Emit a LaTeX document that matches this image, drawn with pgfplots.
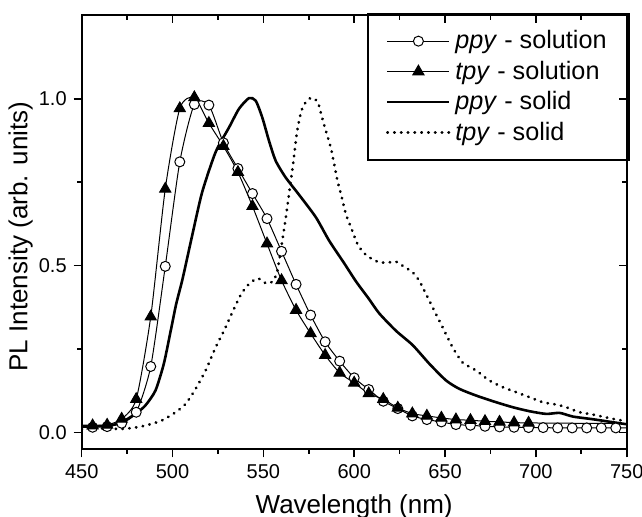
\documentclass[border=0pt]{standalone}
\usepackage{fontspec}
\setmainfont{Liberation Sans}
\usepackage{pgfplots}
\pgfplotsset{compat=1.18}

% 1 px of the reference = 0.5 pt here
\pgfplotsset{
  plbox/.style={
    width=272.5pt, height=217pt, scale only axis,
    xmin=450, xmax=750, ymin=-0.05, ymax=1.25,
    xtick={450,500,...,750}, ytick={0,0.5,1},
    minor x tick num=1, minor y tick num=1,
    major tick length=4pt, minor tick length=2.2pt,
    axis line style={line width=1pt},
    every tick/.style={black, line width=0.8pt},
  },
}

\begin{document}
\begin{tikzpicture}
\begin{axis}[
    plbox,
    tick align=outside,
    xtick pos=left, ytick pos=left,
    yticklabels={0.0,0.5,1.0},
    /pgf/number format/assume math mode=true,
    tick label style={font=\fontsize{10}{12}\selectfont},
    xlabel={Wavelength (nm)},
    ylabel={PL Intensity (arb. units)},
    x label style={font=\fontsize{13}{15}\selectfont,
        at={(axis description cs:0.5,0)}, anchor=base, yshift=-32.3pt},
    y label style={font=\fontsize{13}{15}\selectfont,
        at={(axis description cs:-0.112,0.49)}, anchor=center},
    legend style={at={(1.006,1.005)}, anchor=north east,
        draw=black, line width=0.8pt,
        font=\fontsize{12.6}{15}\selectfont,
        inner xsep=9pt, inner ysep=6pt,
        row sep=0pt,
        nodes={inner sep=2.3pt}},
    legend cell align=left,
    legend image code/.code={
        \draw[mark indices={2}] plot coordinates {(0pt,0pt) (15.5pt,0pt) (31pt,0pt)};},
]
% ppy - solution (open circles every 8 nm)
\addplot[black, line width=0.5pt, smooth, tension=0.4,
    mark=*, mark size=2.5pt, mark options={fill=white, line width=0.5pt},
    mark indices={2,...,38}] coordinates {
    (450,0.016) (456,0.016) (464,0.018) (472,0.028) (480,0.061) (488,0.198)
    (496,0.498) (504,0.811) (512,0.983) (520,0.981) (528,0.868) (536,0.791)
    (544,0.716) (552,0.641) (560,0.543) (568,0.444) (576,0.352) (584,0.272)
    (592,0.214) (600,0.164) (608,0.129) (616,0.094) (624,0.072) (632,0.050)
    (640,0.039) (648,0.032) (656,0.024) (664,0.022) (672,0.019) (680,0.017)
    (688,0.016) (696,0.015) (704,0.015) (712,0.014) (720,0.014) (728,0.014)
    (736,0.014) (744,0.014) (750,0.014)
};
% tpy - solution (filled triangles every 8 nm)
\addplot[black, line width=0.5pt, smooth, tension=0.4,
    mark=triangle*, mark size=3.2pt, mark options={fill=black},
    mark indices={2,...,32}] coordinates {
    (450,0.020) (456,0.021) (464,0.023) (472,0.041) (480,0.100) (488,0.347)
    (496,0.730) (504,0.971) (512,1.004) (520,0.927) (528,0.858) (536,0.780)
    (544,0.678) (552,0.566) (560,0.456) (568,0.367) (576,0.297) (584,0.232)
    (592,0.179) (600,0.149) (608,0.117) (616,0.100) (624,0.074) (632,0.057)
    (640,0.050) (648,0.044) (656,0.039) (664,0.037) (672,0.034) (680,0.032)
    (688,0.030) (696,0.029) (720,0.028) (750,0.027)
};
% ppy - solid
\addplot[black, line width=1.3pt, smooth, tension=0.4] coordinates {
    (450,0.020) (460,0.020) (467,0.023) (472,0.031) (479.6,0.056) (485,0.081)
    (490.6,0.126) (495.2,0.206) (499,0.305) (502,0.385) (505.5,0.460)
    (510.8,0.590) (516.3,0.720) (523.7,0.840) (531.1,0.914) (536.6,0.970)
    (542.1,1.002) (545.8,0.994) (549.4,0.944) (553.1,0.874) (556.8,0.814)
    (562.3,0.764) (569.7,0.712) (578.9,0.645) (586.2,0.575) (594.4,0.508)
    (601.1,0.452) (607.9,0.402) (613.8,0.357) (623,0.305) (632.2,0.262)
    (641.4,0.206) (650.6,0.156) (657.9,0.131) (667.1,0.111) (678.1,0.091)
    (687.3,0.076) (696.5,0.064) (705.7,0.056) (713.1,0.059) (720.4,0.048)
    (731.4,0.040) (742.5,0.031) (750,0.025)
};
% tpy - solid
\addplot[black, line width=1.4pt, line cap=round,
    dash pattern=on 0.2pt off 3.2pt, smooth, tension=0.4] coordinates {
    (450,0.010) (460,0.012) (472,0.011) (478,0.014) (485,0.021) (494,0.036)
    (501.7,0.061) (507.2,0.086) (512.7,0.131) (518.2,0.186) (523.7,0.255)
    (528.3,0.305) (533.5,0.367) (538,0.417) (542.5,0.447) (547,0.462)
    (551.5,0.447) (555,0.452) (557.5,0.480) (560,0.560) (562.5,0.650)
    (564.5,0.730) (566.5,0.810) (568.5,0.900) (571,0.965) (574,0.995)
    (577,1.003) (580,0.990) (582,0.950) (584.4,0.904) (587.1,0.854)
    (589,0.804) (590.8,0.754) (592.7,0.715) (595.4,0.655) (598.2,0.615)
    (601.8,0.565) (605,0.540) (608.3,0.525) (613.8,0.510) (619.3,0.510)
    (623,0.512) (626.6,0.500) (632.2,0.480) (635.8,0.455) (637.7,0.435)
    (643.2,0.375) (648.7,0.315) (654.2,0.255) (659.7,0.210) (667.1,0.186)
    (674.4,0.156) (681.8,0.136) (689.2,0.121) (696.5,0.106) (703.8,0.091)
    (711.2,0.084) (716.7,0.076) (724.1,0.061) (731.4,0.054) (742.5,0.041)
    (750,0.034)
};
\legend{\textit{ppy} - solution, \textit{tpy} - solution, \textit{ppy} - solid, \textit{tpy} - solid}
\coordinate (sw) at (rel axis cs:0,0);
\end{axis}
% mirrored ticks on top and right, pointing inward
\begin{axis}[
    plbox,
    tick align=inside,
    xtick pos=right, ytick pos=right,
    xticklabels={}, yticklabels={},
]
\end{axis}
\pgfresetboundingbox
\path (sw) ++(-40.85pt,-33.85pt) rectangle ++(321pt,258.5pt);
\end{tikzpicture}
\end{document}
